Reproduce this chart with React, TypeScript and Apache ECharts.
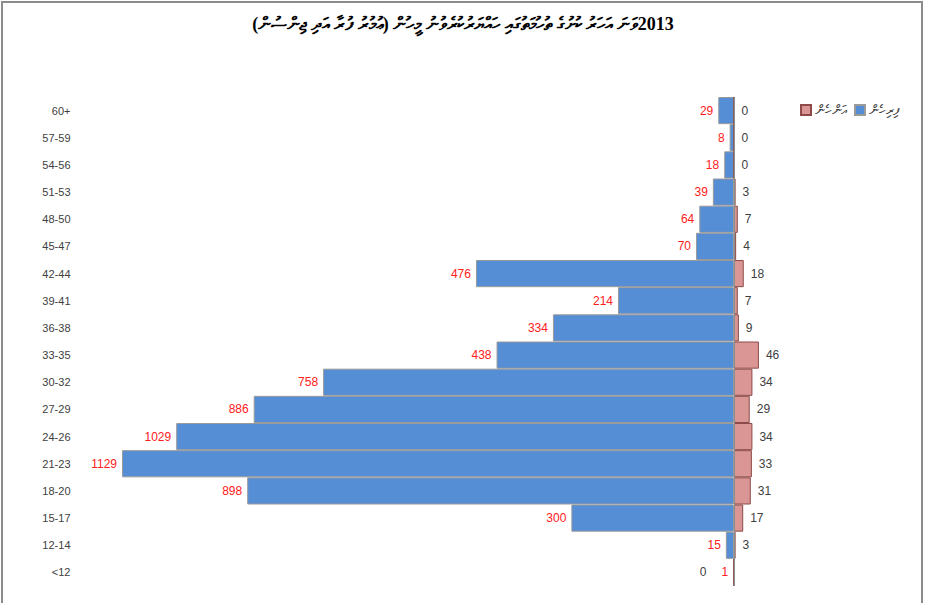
import React, { useEffect, useRef } from "react";
import * as echarts from "echarts";

const titleText =
  "\u202B2013ވަނަ އަހަރު ކުށުގެ ތުހުމަތުގައި ހައްޔަރުކުރެވުނު މީހުން (ޢުމުރު ފުރާ އަދި ޖިންސުން)\u202C";
const maleName = "ފިރިހެން";
const femaleName = "އަންހެން";

const categories = [
  "<12", "12-14", "15-17", "18-20", "21-23", "24-26", "27-29", "30-32", "33-35",
  "36-38", "39-41", "42-44", "45-47", "48-50", "51-53", "54-56", "57-59", "60+",
];
const male = [1, 15, 300, 898, 1129, 1029, 886, 758, 438, 334, 214, 476, 70, 64, 39, 18, 8, 29];
const female = [0, 3, 17, 31, 33, 34, 29, 34, 46, 9, 7, 18, 4, 7, 3, 0, 0, 0];

const labelFont = "'Liberation Sans', Arial, sans-serif";
const thaanaFont = "'DejaVu Sans', 'Noto Sans', sans-serif";

export default function App() {
  const ref = useRef<HTMLDivElement>(null);
  useEffect(() => {
    document.body.style.margin = "0";
    if (!ref.current) return;
    const chart = echarts.init(ref.current, null, { renderer: "svg" });
    const femaleData = female.map((v, i) =>
      i === 0
        ? { value: v, label: { position: "left", distance: 27 } }
        : { value: v }
    );
    chart.setOption({
      animation: false,
      backgroundColor: "#ffffff",
      title: {
        text: titleText,
        left: 458,
        textAlign: "center",
        top: 10,
        textStyle: {
          fontFamily: "'Liberation Serif', 'DejaVu Sans', serif",
          fontSize: 18,
          fontWeight: "bold",
          color: "#000000",
        },
      },
      legend: {
        left: 795,
        top: 98,
        itemWidth: 10,
        itemHeight: 10,
        itemGap: 6,
        icon: "rect",
        data: [femaleName, maleName],
        textStyle: { fontFamily: thaanaFont, fontSize: 14, color: "#404040", padding: [0, 0, 0, -1] },
      },
      graphic: [
        {
          type: "rect",
          shape: { x: 2, y: 2, width: 920, height: 700 },
          style: { fill: "none", stroke: "#8c8c8c", lineWidth: 2 },
          silent: true,
        },
      ],
      grid: { left: 83.5, right: 84.6, top: 97, bottom: 17 },
      xAxis: {
        type: "value",
        min: -1200,
        max: 200,
        show: false,
      },
      yAxis: {
        type: "category",
        data: categories,
        axisLine: { show: false, onZero: false },
        axisTick: { show: false },
        axisLabel: {
          fontFamily: labelFont,
          fontSize: 11,
          color: "#404040",
          margin: 13,
        },
      },
      series: [
        {
          name: maleName,
          type: "bar",
          data: male.map((v) => -v),
          barWidth: "100%",
          barGap: "-100%",
          itemStyle: { color: "#558ed5", borderColor: "#9a9a9a", borderWidth: 1 },
          label: {
            show: true,
            position: "left",
            distance: 5,
            color: "#ff2020",
            fontFamily: labelFont,
            fontSize: 12,
            formatter: (p: any) => String(Math.abs(p.value)),
          },
        },
        {
          name: femaleName,
          type: "bar",
          data: femaleData,
          barWidth: "100%",
          barGap: "-100%",
          itemStyle: { color: "#d99694", borderColor: "#8c4a48", borderWidth: 1 },
          label: {
            show: true,
            position: "right",
            distance: 7,
            color: "#404040",
            fontFamily: labelFont,
            fontSize: 12,
          },
          markLine: {
            silent: true,
            symbol: "none",
            label: { show: false },
            lineStyle: { color: "#8c8c8c", width: 1, type: "solid" },
            data: [{ xAxis: 0 }],
          },
        },
      ],
    });
    return () => chart.dispose();
  }, []);
  return <div ref={ref} style={{ width: 927, height: 603 }} />;
}
